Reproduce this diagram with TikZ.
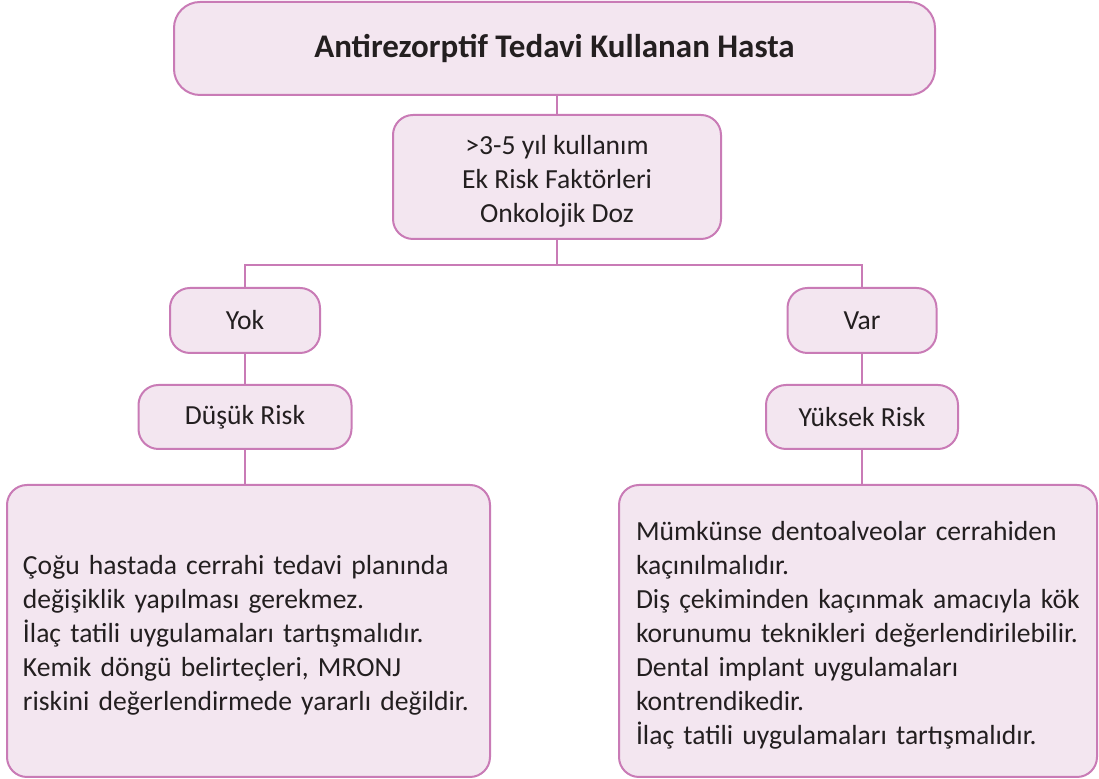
\documentclass[tikz,border=0pt]{standalone}
\usepackage{fontspec}
\setmainfont{Carlito}
\definecolor{boxfill}{HTML}{F3E6F0}
\definecolor{boxline}{HTML}{C97BB6}
\definecolor{txt}{HTML}{231F20}
\newcommand{\lowtab}[2]{\raisebox{-2.5pt}[\height][\depth]{\begin{tabular}{@{}#1@{}}#2\end{tabular}}}
\begin{document}
\begin{tikzpicture}[x=0.5pt,y=-0.5pt,
  box/.style={draw=boxline,fill=boxfill,line width=1pt,rounded corners=10pt,text=txt,inner sep=0pt,align=center,font=\fontsize{13.8}{17}\selectfont},
  conn/.style={draw=boxline,line width=1pt}]
\useasboundingbox (0,0) rectangle (1099,779);
\node[box,rounded corners=13pt,minimum width=380.5pt,minimum height=46.5pt,font=\fontsize{16.5}{19}\selectfont\bfseries] (top) at (554.5,48.5) {Antirezorptif Tedavi Kullanan Hasta};
\node[box,minimum width=164pt,minimum height=62pt] (b2) at (557,177) {\lowtab{c}{>3-5 yıl kullanım\\Ek Risk Faktörleri\\Onkolojik Doz}};
\node[box,minimum width=75pt,minimum height=32.5pt] (yok) at (245,320.5) {Yok};
\node[box,minimum width=106.5pt,minimum height=32pt] (dus) at (245,417) {Düşük Risk};
\node[box,minimum width=74.5pt,minimum height=32.5pt] (var) at (862,320.5) {Var};
\node[box,minimum width=96pt,minimum height=32pt] (yuk) at (862,417) {Yüksek Risk};
\node[box,minimum width=241.5pt,minimum height=146pt,text width=225.5pt,align=left] (left) at (248.5,631) {\lowtab{l}{Çoğu hastada cerrahi tedavi planında\\değişiklik yapılması gerekmez.\\İlaç tatili uygulamaları tartışmalıdır.\\Kemik döngü belirteçleri, MRONJ\\riskini değerlendirmede yararlı değildir.}};
\node[box,minimum width=239pt,minimum height=146pt,text width=222pt,align=left] (right) at (858,631) {\lowtab{l}{Mümkünse dentoalveolar cerrahiden\\kaçınılmalıdır.\\Diş çekiminden kaçınmak amacıyla kök\\korunumu teknikleri değerlendirilebilir.\\Dental implant uygulamaları\\kontrendikedir.\\İlaç tatili uygulamaları tartışmalıdır.}};
\coordinate (j) at (557,265);
\draw[conn] (top.south -| b2) -- (b2.north);
\draw[conn] (b2.south) -- (j);
\draw[conn] (yok.north) |- (j) -| (var.north);
\draw[conn] (yok.south) -- (dus.north);
\draw[conn] (var.south) -- (yuk.north);
\draw[conn] (dus.south) -- (dus.south |- left.north);
\draw[conn] (yuk.south) -- (yuk.south |- right.north);
\end{tikzpicture}
\end{document}
